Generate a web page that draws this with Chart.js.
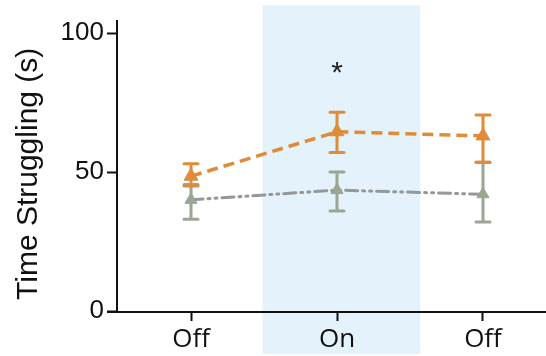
<!DOCTYPE html>
<html>
<head>
<meta charset="utf-8">
<script src="https://cdn.jsdelivr.net/npm/chart.js@4"></script>
<style>
  html, body { margin: 0; padding: 0; background: #fff; }
  #wrap { width: 546px; height: 356px; position: relative; }
</style>
</head>
<body>
<div id="wrap"><canvas id="myChart"></canvas></div>
<script>
// condition labels along the x axis
const categories = ['Off', 'On', 'Off'];
const yTicks = [0, 50, 100];

// orange series (mean, upper, lower)
const orangeMean = [48.5, 64.5, 63];
const orangeHigh = [53, 71.5, 70.5];
const orangeLow = [45, 57, 53.5];

// gray series
const grayMean = [40, 43.5, 42];
const grayHigh = [45.5, 50, 53.5];
const grayLow = [33, 36, 32];

// shaded "On" period and significance mark
const bandFrom = 0.49, bandTo = 1.57;
const starX = 1, starY = 88;

const orange = '#df8b37';
const grayLine = '#949898';
const grayMark = '#9aa592';

function pts(arr) {
    return arr.map((v, i) => ({ x: i, y: v }));
}

// draws the blue band behind everything, error bars under the lines,
// the asterisk and the axis lines
const extras = {
    id: 'extras',
    beforeDraw(chart) {
        const ctx = chart.ctx, x = chart.scales.x, y = chart.scales.y;
        ctx.save();
        ctx.fillStyle = '#e3f2fb';
        const x0 = x.getPixelForValue(bandFrom), x1 = x.getPixelForValue(bandTo);
        ctx.fillRect(x0, y.getPixelForValue(110), x1 - x0, chart.height - 2 - y.getPixelForValue(110));
        ctx.restore();
    },
    beforeDatasetsDraw(chart) {
        const ctx = chart.ctx, x = chart.scales.x, y = chart.scales.y;
        const sets = [
            { hi: grayHigh, lo: grayLow, c: grayMark },
            { hi: orangeHigh, lo: orangeLow, c: orange }
        ];
        ctx.save();
        ctx.lineWidth = 3;
        ctx.lineCap = 'round';
        sets.forEach(s => {
            ctx.strokeStyle = s.c;
            s.hi.forEach((h, i) => {
                const px = x.getPixelForValue(i);
                const top = y.getPixelForValue(h), bot = y.getPixelForValue(s.lo[i]);
                ctx.beginPath();
                ctx.moveTo(px, top); ctx.lineTo(px, bot);
                ctx.moveTo(px - 7, top); ctx.lineTo(px + 7, top);
                ctx.moveTo(px - 7, bot); ctx.lineTo(px + 7, bot);
                ctx.stroke();
            });
        });
        ctx.restore();
    },
    afterDraw(chart) {
        const ctx = chart.ctx, x = chart.scales.x, y = chart.scales.y;
        const a = chart.chartArea;
        ctx.save();
        ctx.fillStyle = '#222';
        ctx.font = '30px "Liberation Sans"';
        ctx.textAlign = 'center';
        ctx.textBaseline = 'middle';
        ctx.fillText('*', x.getPixelForValue(starX), y.getPixelForValue(starY) + 7);
        // axis lines
        ctx.strokeStyle = '#111';
        ctx.lineWidth = 2;
        ctx.beginPath();
        ctx.moveTo(a.left, a.top);
        ctx.lineTo(a.left, a.bottom + 1);
        ctx.moveTo(a.left - 10, a.bottom + 1);
        ctx.lineTo(chart.width, a.bottom + 1);
        ctx.stroke();
        ctx.restore();
    }
};

var ctx = document.getElementById('myChart').getContext('2d');
var chart = new Chart(ctx, {
    type: 'line',
    data: {
        datasets: [{
            label: 'gray',
            data: pts(grayMean),
            borderColor: grayLine,
            borderWidth: 3,
            borderDash: [12, 5, 2, 5, 2, 5],
            borderCapStyle: 'round',
            pointStyle: 'triangle',
            pointRadius: 7,
            pointBackgroundColor: grayMark,
            pointBorderColor: grayMark,
            pointBorderWidth: 1,
            tension: 0
        }, {
            label: 'orange',
            data: pts(orangeMean),
            borderColor: orange,
            borderWidth: 3.5,
            borderDash: [11, 6],
            pointStyle: 'triangle',
            pointRadius: 8,
            pointBackgroundColor: orange,
            pointBorderColor: orange,
            pointBorderWidth: 1,
            tension: 0
        }]
    },
    options: {
        responsive: true,
        maintainAspectRatio: false,
        animation: false,
        events: [],
        layout: { padding: { top: 20, right: 0, left: 0, bottom: 0 } },
        plugins: { legend: { display: false }, tooltip: { enabled: false } },
        scales: {
            x: {
                type: 'linear',
                min: -0.507,
                max: 2.37,
                afterBuildTicks: axis => { axis.ticks = categories.map((c, i) => ({ value: i })); },
                afterFit: scale => { scale.height = 45; },
                border: { display: false },
                grid: { drawOnChartArea: false, tickLength: 10, tickWidth: 2, tickColor: '#111' },
                ticks: {
                    callback: v => categories[v],
                    color: '#111',
                    padding: 3,
                    maxRotation: 0,
                    font: { family: '"Open Sans"', size: 26 }
                }
            },
            y: {
                min: 0,
                max: 104.7,
                afterBuildTicks: axis => { axis.ticks = yTicks.map(v => ({ value: v })); },
                afterFit: scale => { scale.width = 117; },
                border: { display: false },
                grid: { drawOnChartArea: false, tickLength: 10, tickWidth: 2, tickColor: '#111' },
                ticks: {
                    color: '#111',
                    padding: 3,
                    font: { family: '"Liberation Sans"', size: 26 }
                },
                title: {
                    display: true,
                    text: 'Time Struggling (s)\u00a0\u00a0',
                    color: '#111',
                    padding: { top: 11, bottom: 0 },
                    font: { family: '"Liberation Sans"', size: 30 }
                }
            }
        }
    },
    plugins: [extras]
});
</script>
</body>
</html>
